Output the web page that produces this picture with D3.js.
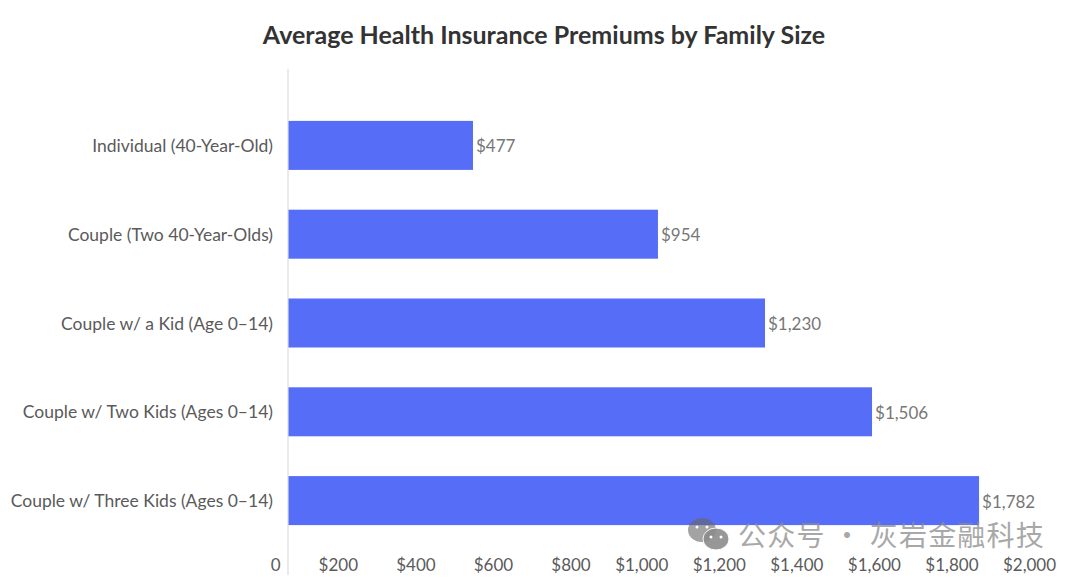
<!DOCTYPE html>
<html>
<head>
<meta charset="utf-8">
<script src="https://cdn.jsdelivr.net/npm/d3@7"></script>
<style>
  html, body { margin: 0; padding: 0; background: #fff; }
  svg { display: block; }
  .cat text { font: 17.5px Lato, sans-serif; fill: #5a5a5a; }
  .val text { font: 17px Lato, sans-serif; fill: #5a5a5a; }
  .value { font: 17px Lato, sans-serif; fill: #777; }
  .title { font: bold 25px Lato, sans-serif; fill: #333; }
  .mark { font: 28px "Noto Sans CJK SC", sans-serif; fill: #8c8c8c; opacity: .75; letter-spacing: 1.2px; }
</style>
</head>
<body>
<div id="plot"></div>
<script>
const categories = [
  "Individual (40-Year-Old)",
  "Couple (Two 40-Year-Olds)",
  "Couple w/ a Kid (Age 0–14)",
  "Couple w/ Two Kids (Ages 0–14)",
  "Couple w/ Three Kids (Ages 0–14)"
];
const premiums = [477, 954, 1230, 1506, 1782];
const xTicks = [0, 200, 400, 600, 800, 1000, 1200, 1400, 1600, 1800, 2000];

const width = 1080, height = 579;
const axisX = 288, axisTop = 69, axisBottom = 575;

const svg = d3.select("#plot").append("svg")
  .attr("width", width)
  .attr("height", height);

svg.append("text")
  .attr("class", "title")
  .attr("x", 544)
  .attr("y", 44)
  .attr("text-anchor", "middle")
  .text("Average Health Insurance Premiums by Family Size");

const x = d3.scaleLinear().domain([0, 2000]).range([axisX, axisX + 775.6]);
const y = d3.scaleBand().domain(categories).range([101, 545])
  .paddingInner(0.448)
  .paddingOuter(0.224);

svg.append("g")
  .selectAll("rect")
  .data(premiums)
  .join("rect")
  .attr("x", x(0))
  .attr("y", (d, i) => y(categories[i]))
  .attr("width", d => x(d) - x(0))
  .attr("height", y.bandwidth())
  .attr("fill", "#566ef7");

// value labels sit just right of each bar
svg.append("g")
  .selectAll("text")
  .data(premiums)
  .join("text")
  .attr("class", "value")
  .attr("x", d => x(d) + 3)
  .attr("y", (d, i) => y(categories[i]) + y.bandwidth() / 2 + 1)
  .attr("dy", "0.35em")
  .text(d => "$" + d3.format(",")(d));

// category axis, the domain line is drawn below at full height
svg.append("g")
  .attr("class", "cat")
  .attr("transform", "translate(" + axisX + ",1)")
  .call(d3.axisLeft(y).tickSize(0).tickPadding(15))
  .call(g => g.select(".domain").remove());

svg.append("line")
  .attr("x1", axisX).attr("x2", axisX)
  .attr("y1", axisTop).attr("y2", axisBottom)
  .attr("stroke", "#dcdcdc")
  .attr("stroke-width", 1.2);

// the tick labels end just left of their tick, as in the original
svg.append("g")
  .attr("class", "val")
  .attr("transform", "translate(0,558)")
  .call(d3.axisBottom(x)
    .tickValues(xTicks)
    .tickSize(0)
    .tickPadding(0)
    .tickFormat(d => d === 0 ? "0" : "$" + d3.format(",")(d)))
  .call(g => g.select(".domain").remove())
  .selectAll("text")
  .attr("text-anchor", "end")
  .attr("dx", -8)
  .attr("dy", "0.35em")
  .attr("y", 7);

// watermark
const wm = svg.append("g");
wm.append("ellipse").attr("cx", 702).attr("cy", 530).attr("rx", 14).attr("ry", 12).attr("fill", "#666").attr("opacity", .6);
wm.append("ellipse").attr("cx", 716).attr("cy", 539).attr("rx", 13).attr("ry", 11).attr("fill", "#8c8c8c").attr("stroke", "#fff").attr("stroke-width", 1).attr("opacity", .9);
wm.selectAll("circle")
  .data([[697, 527], [707, 527], [711, 537], [721, 537]])
  .join("circle")
  .attr("cx", d => d[0])
  .attr("cy", d => d[1])
  .attr("r", 1.5)
  .attr("fill", "#fff");
wm.append("text")
  .attr("class", "mark")
  .attr("x", 738)
  .attr("y", 546)
  .text("公众号 · 灰岩金融科技");
</script>
</body>
</html>
